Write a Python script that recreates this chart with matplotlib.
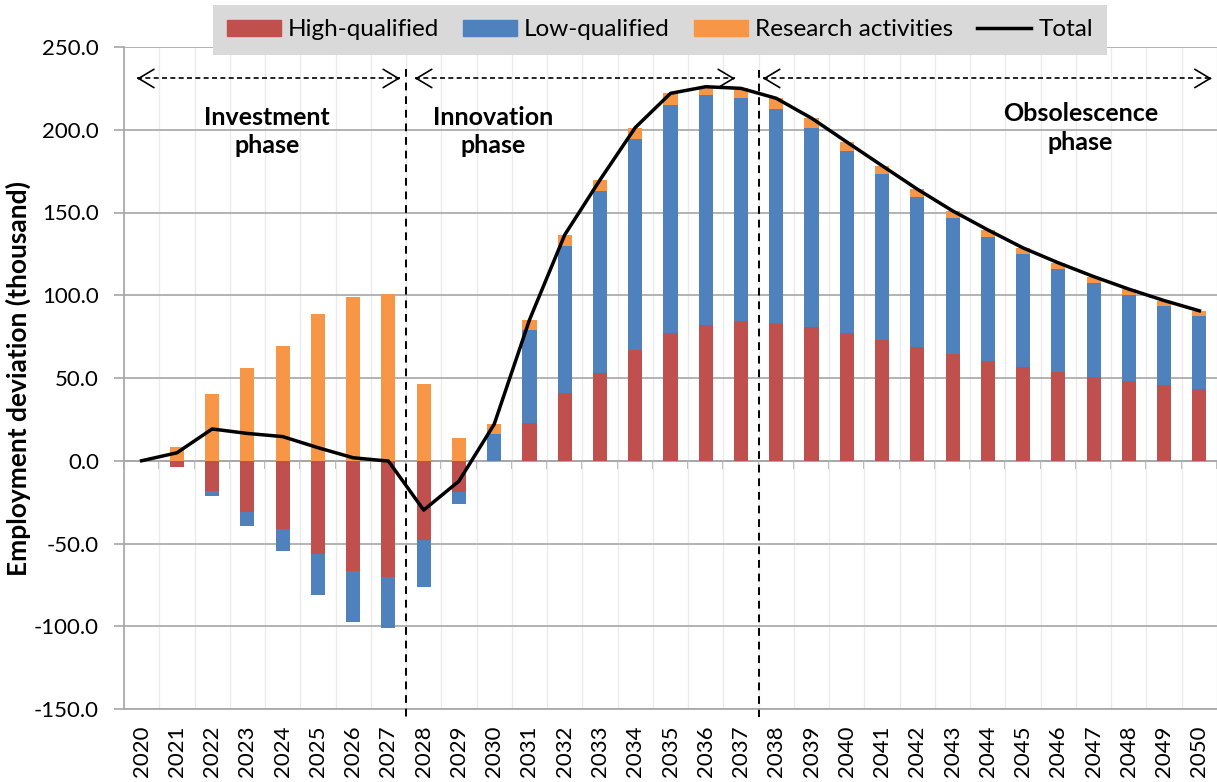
import numpy as np
import matplotlib
matplotlib.use("Agg")
import matplotlib.pyplot as plt
from matplotlib.patches import Patch
from matplotlib.lines import Line2D

plt.rcParams['font.family'] = ['Lato', 'DejaVu Sans']

# Data (thousand)
years = list(range(2020, 2051))
high_qualified = [0, -3.8, -18.5, -31.0, -41.3, -56.2, -66.6, -70.0, -47.7, -18.9,
                  0, 22.8, 40.9, 53.3, 67.0, 77.3, 82.0, 84.5, 83.5, 80.7,
                  77.1, 73.1, 68.7, 64.4, 60.4, 56.8, 53.7, 50.7, 48.1, 45.7, 43.3]
low_qualified = [0, 0, -2.6, -8.7, -13.5, -24.7, -30.6, -31.0, -28.6, -7.1,
                 16.3, 56.3, 88.9, 109.7, 127.3, 137.7, 139.0, 134.9, 129.1, 120.2,
                 110.1, 100.2, 90.7, 82.3, 74.9, 68.0, 62.0, 57.0, 52.1, 48.1, 44.4]
research = [0, 8.6, 40.3, 56.2, 69.4, 88.8, 99.0, 100.8, 46.5, 13.7,
            5.8, 6.0, 6.7, 6.7, 7.0, 7.0, 5.0, 5.6, 6.4, 6.1,
            5.4, 5.0, 4.7, 4.3, 4.2, 3.8, 3.9, 3.6, 3.5, 3.0, 2.9]

phases = ["Investment\nphase", "Innovation\nphase", "Obsolescence\nphase"]

RED = '#C0504D'
BLUE = '#4F81BD'
ORANGE = '#F79646'
GRID = '#a6a6a6'

fig = plt.figure(figsize=(12.17, 7.82), dpi=100)
ax = fig.add_axes([124 / 1217, 1 - 709 / 782, 1 - 124 / 1217, (709 - 47) / 782])

x = np.arange(len(years))
series = [(high_qualified, RED), (low_qualified, BLUE), (research, ORANGE)]
pos_base = np.zeros(len(years))
neg_base = np.zeros(len(years))
for vals, col in series:
    v = np.array(vals, dtype=float)
    base = np.where(v >= 0, pos_base, neg_base)
    ax.bar(x, v, 0.4, bottom=base, color=col, zorder=3)
    pos_base = pos_base + np.clip(v, 0, None)
    neg_base = neg_base + np.clip(v, None, 0)

total = np.array(high_qualified) + np.array(low_qualified) + np.array(research)
ax.plot(x, total, color='black', lw=2.5, zorder=4, solid_joinstyle='round')

ax.set_xlim(-0.5, len(years) - 0.5)
ax.set_ylim(-150, 250)
ax.set_yticks(np.arange(-150, 251, 50))
ax.set_yticklabels([f"{v:.1f}" for v in np.arange(-150, 251, 50)], fontsize=16)
ax.set_xticks(x)
ax.set_xticklabels([str(y) for y in years], rotation=90, fontsize=16)
ax.set_xticks(np.arange(-0.5, len(years), 1), minor=True)
ax.tick_params(axis='x', which='both', length=0, pad=12)
ax.tick_params(axis='y', length=7, color=GRID, width=1.2, pad=11)

ax.grid(axis='y', color=GRID, lw=1.2, zorder=0)
ax.grid(axis='x', which='minor', color='#ebebeb', lw=1, zorder=0)
ax.set_axisbelow(True)
for s in ['top', 'right']:
    ax.spines[s].set_visible(False)
ax.spines['left'].set_color(GRID)
ax.spines['left'].set_linewidth(1.2)
ax.spines['bottom'].set_color(GRID)
ax.spines['bottom'].set_linewidth(1.2)

# zero axis with tick marks at category boundaries
zero_ax = ax.secondary_xaxis(150 / 400)
zero_ax.set_xticks(np.arange(-0.5, len(years), 1))
zero_ax.tick_params(length=6, width=1.2, color=GRID, labelbottom=False)
zero_ax.spines['bottom'].set_color(GRID)
zero_ax.spines['bottom'].set_linewidth(1.2)

ax.set_ylabel("Employment deviation (thousand)", fontsize=19, fontweight='bold', labelpad=2)

# phase separators
for xs, ytop in [(7.5, 237), (17.5, 236)]:
    ax.plot([xs, xs], [ytop, -155], color='black', lw=1.4, ls=(0, (4, 3)),
            clip_on=False, zorder=5)

# phase arrows
arrow_y = 231
for x0, x1 in [(-0.13, 7.33), (7.75, 16.83), (17.62, 30.35)]:
    ax.plot([x0, x1], [arrow_y, arrow_y], color='black', lw=1.2, ls=(0, (3, 2)), zorder=5)
    for tip, tail in [(x0, x0 + 0.05), (x1, x1 - 0.05)]:
        ax.annotate('', xy=(tip, arrow_y), xytext=(tail, arrow_y),
                    arrowprops=dict(arrowstyle='->,head_length=0.5,head_width=0.3',
                                    lw=1.2, color='black', shrinkA=0, shrinkB=0,
                                    mutation_scale=22))

for (px, py), label in zip([(3.56, 199), (9.97, 199), (26.63, 201)], phases):
    ax.text(px, py, label, ha='center', va='center', fontsize=18,
            fontweight='bold', linespacing=1.3, zorder=6)

handles = [Patch(color=RED), Patch(color=BLUE), Patch(color=ORANGE),
           Line2D([], [], color='black', lw=2.5)]
labels = ["High-qualified", "Low-qualified", "Research activities", "Total"]
leg = fig.legend(handles, labels, loc='center', bbox_to_anchor=(660 / 1217, 1 - 30 / 782),
                 ncol=4, fontsize=17.5, frameon=True, fancybox=False, framealpha=1,
                 facecolor='#d9d9d9', edgecolor='none', handlelength=2.2,
                 handleheight=0.65, handletextpad=0.3, columnspacing=1.0,
                 borderpad=0.6, borderaxespad=0)
leg.set_zorder(10)

fig.savefig("out.png", dpi=100)
